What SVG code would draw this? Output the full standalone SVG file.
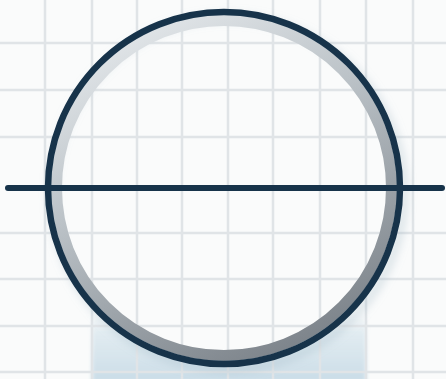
<svg xmlns="http://www.w3.org/2000/svg" width="446" height="379" viewBox="0 0 446 379">
  <style>
    .grid line { stroke: #e0e4e7; stroke-width: 2.5; }
    .dark { stroke: #17334a; fill: none; }
  </style>
  <defs>
    <linearGradient id="ringGrad" x1="0.2" y1="0" x2="0.7" y2="1">
      <stop offset="0" stop-color="#e4e8eb"/>
      <stop offset="0.4" stop-color="#bcc3c8"/>
      <stop offset="1" stop-color="#7c838a"/>
    </linearGradient>
    <linearGradient id="shadowGrad" x1="0" y1="0" x2="0" y2="1">
      <stop offset="0" stop-color="#dbe7ee" stop-opacity="0"/>
      <stop offset="0.3" stop-color="#d6e4ec" stop-opacity="0.7"/>
      <stop offset="1" stop-color="#c9dce7"/>
    </linearGradient>
    <mask id="outsideCircle">
      <rect x="0" y="0" width="446" height="379" fill="#fff"/>
      <circle cx="224" cy="188" r="170" fill="#000"/>
    </mask>
    <filter id="soft" x="-10%" y="-10%" width="120%" height="120%">
      <feGaussianBlur stdDeviation="4"/>
    </filter>
    <filter id="blurS" x="-5%" y="-20%" width="110%" height="140%">
      <feGaussianBlur stdDeviation="2"/>
    </filter>
  </defs>
  <rect x="0" y="0" width="446" height="379" fill="#fafbfb"/>
  <g id="shadow" mask="url(#outsideCircle)">
    <rect x="92" y="312" width="274" height="70" fill="url(#shadowGrad)" filter="url(#blurS)"/>
  </g>
  <g class="grid" id="grid">
    <line x1="45" y1="0" x2="45" y2="379"/>
    <line x1="92" y1="0" x2="92" y2="379"/>
    <line x1="137" y1="0" x2="137" y2="379"/>
    <line x1="182" y1="0" x2="182" y2="379"/>
    <line x1="228" y1="0" x2="228" y2="379"/>
    <line x1="273" y1="0" x2="273" y2="379"/>
    <line x1="320" y1="0" x2="320" y2="379"/>
    <line x1="366" y1="0" x2="366" y2="379"/>
    <line x1="413" y1="0" x2="413" y2="379"/>
    <line x1="0" y1="43" x2="446" y2="43"/>
    <line x1="0" y1="90" x2="446" y2="90"/>
    <line x1="0" y1="137" x2="446" y2="137"/>
    <line x1="0" y1="233" x2="446" y2="233"/>
    <line x1="0" y1="279" x2="446" y2="279"/>
    <line x1="0" y1="326" x2="446" y2="326"/>
    <line x1="0" y1="372" x2="446" y2="372"/>
  </g>
  <g id="ring">
    <circle cx="228" cy="193" r="176" fill="none" stroke="#9fb4c2" stroke-opacity="0.35" stroke-width="8" filter="url(#soft)"/>
    <circle cx="224" cy="188" r="167.5" fill="none" stroke="url(#ringGrad)" stroke-width="11"/>
    <circle class="dark" cx="224" cy="188" r="176" stroke-width="6.5"/>
  </g>
  <g id="connectors">
    <line class="dark" x1="8" y1="188" x2="442" y2="188" stroke-width="6" stroke-linecap="round"/>
  </g>
</svg>
